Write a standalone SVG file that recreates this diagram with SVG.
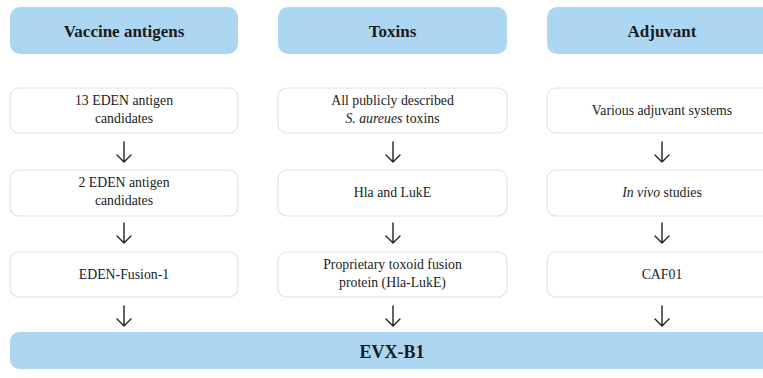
<svg xmlns="http://www.w3.org/2000/svg" width="763" height="378" viewBox="0 0 763 378">
<defs>
<style>
.hdr{fill:#acd6f2;}
.node{fill:#ffffff;stroke:#d3e6f3;stroke-width:1.2;}
.ht{font-family:'Liberation Serif','Times New Roman',Times,serif;font-weight:bold;font-size:17px;fill:#1a1a1a;text-anchor:middle;}
.nt{font-family:'Liberation Serif','Times New Roman',Times,serif;font-size:13.8px;fill:#222222;text-anchor:middle;}
.arr{fill:none;stroke:#222;stroke-width:1.4;stroke-linecap:round;stroke-linejoin:round;}
</style>
</defs>
<rect width="763" height="378" fill="#ffffff"/>
<g id="hdr-vaccine"><rect class="hdr" x="10" y="7" width="228" height="47" rx="10"/><text class="ht" x="124" y="37">Vaccine antigens</text></g>
<g id="hdr-toxins"><rect class="hdr" x="278" y="7" width="229" height="47" rx="10"/><text class="ht" x="392.5" y="37">Toxins</text></g>
<g id="hdr-adjuvant"><rect class="hdr" x="547" y="7" width="230" height="47" rx="10"/><text class="ht" x="662" y="37">Adjuvant</text></g>

<g id="v1"><rect class="node" x="10" y="88" width="228" height="45" rx="9"/><text class="nt" x="124" y="105">13 EDEN antigen</text><text class="nt" x="124" y="123">candidates</text></g>
<g id="v2"><rect class="node" x="10" y="170" width="228" height="46" rx="9"/><text class="nt" x="124" y="187">2 EDEN antigen</text><text class="nt" x="124" y="205">candidates</text></g>
<g id="v3"><rect class="node" x="10" y="252" width="228" height="45" rx="9"/><text class="nt" x="124" y="279">EDEN-Fusion-1</text></g>

<g id="t1"><rect class="node" x="278" y="88" width="229" height="45" rx="9"/><text class="nt" x="392.5" y="105">All publicly described</text><text class="nt" x="392.5" y="123"><tspan font-style="italic">S. aureues</tspan> toxins</text></g>
<g id="t2"><rect class="node" x="278" y="170" width="229" height="46" rx="9"/><text class="nt" x="392.5" y="197">Hla and LukE</text></g>
<g id="t3"><rect class="node" x="278" y="252" width="229" height="45" rx="9"/><text class="nt" x="392.5" y="269">Proprietary toxoid fusion</text><text class="nt" x="392.5" y="287">protein (Hla-LukE)</text></g>

<g id="a1"><rect class="node" x="547" y="88" width="230" height="45" rx="9"/><text class="nt" x="662" y="115">Various adjuvant systems</text></g>
<g id="a2"><rect class="node" x="547" y="170" width="230" height="46" rx="9"/><text class="nt" x="662" y="197"><tspan font-style="italic">In vivo</tspan> studies</text></g>
<g id="a3"><rect class="node" x="547" y="252" width="230" height="45" rx="9"/><text class="nt" x="662" y="279">CAF01</text></g>

<g id="evx"><rect class="hdr" x="10" y="332" width="770" height="37" rx="9"/><text class="ht" x="392" y="358" style="font-size:18px">EVX-B1</text></g>

<g id="connectors">
<path class="arr" d="M124 142V162M117 155L124 162L131 155"/>
<path class="arr" d="M124 223V243M117 236L124 243L131 236"/>
<path class="arr" d="M124 306V326M117 319L124 326L131 319"/>
<path class="arr" d="M393 142V162M386 155L393 162L400 155"/>
<path class="arr" d="M393 223V243M386 236L393 243L400 236"/>
<path class="arr" d="M393 306V326M386 319L393 326L400 319"/>
<path class="arr" d="M662 142V162M655 155L662 162L669 155"/>
<path class="arr" d="M662 223V243M655 236L662 243L669 236"/>
<path class="arr" d="M662 306V326M655 319L662 326L669 319"/>
</g>
</svg>
